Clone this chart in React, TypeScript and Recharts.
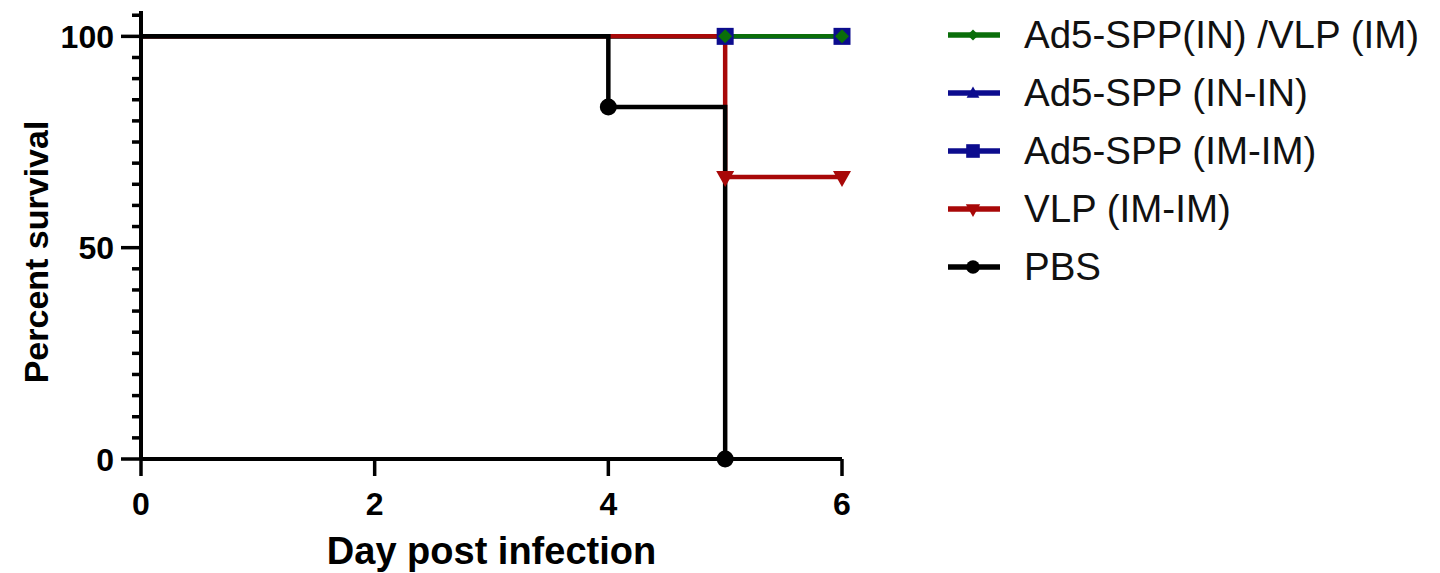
import React from "react";
import { LineChart, Line, XAxis, YAxis, Legend } from "recharts";

const FONT = '"Liberation Sans", Arial, Helvetica, sans-serif';

// Kaplan-Meier style survival, day vs percent
const dayTicks = [0, 2, 4, 6];
const percentTicks = [0, 5, 10, 15, 20, 25, 30, 35, 40, 45, 50, 55, 60, 65, 70, 75, 80, 85, 90, 95, 100, 105];
const majorPercent = [0, 50, 100];

const comboDays = [0, 5, 6];
const comboSurvival = [100, 100, 100];
const ininDays = [0, 5, 6];
const ininSurvival = [100, 100, 100];
const imimDays = [0, 5, 6];
const imimSurvival = [100, 100, 100];
const vlpDays = [0, 5, 6];
const vlpSurvival = [100, 66.7, 66.7];
const pbsDays = [0, 4, 5];
const pbsSurvival = [100, 83.3, 0];

type Shape = "diamond" | "triangle" | "square" | "triangleDown" | "circle";

interface Series {
    name: string;
    color: string;
    shape: Shape;
    days: number[];
    values: number[];
}

// legend order
const series: Series[] = [
    { name: "Ad5-SPP(IN) /VLP (IM)", color: "#0a6e0a", shape: "diamond", days: comboDays, values: comboSurvival },
    { name: "Ad5-SPP (IN-IN)", color: "#0c0c8e", shape: "triangle", days: ininDays, values: ininSurvival },
    { name: "Ad5-SPP (IM-IM)", color: "#0c0c8e", shape: "square", days: imimDays, values: imimSurvival },
    { name: "VLP (IM-IM)", color: "#a80808", shape: "triangleDown", days: vlpDays, values: vlpSurvival },
    { name: "PBS", color: "#000000", shape: "circle", days: pbsDays, values: pbsSurvival },
];

// paint order: blue ones under, black on top
const drawOrder = [1, 2, 0, 3, 4];

const marker = (shape: Shape, cx: number, cy: number, color: string, k = 1) => {
    switch (shape) {
        case "diamond":
            return <polygon points={`${cx},${cy - 7 * k} ${cx + 7 * k},${cy} ${cx},${cy + 7 * k} ${cx - 7 * k},${cy}`} fill={color} />;
        case "triangle":
            return <polygon points={`${cx},${cy - 8 * k} ${cx + 8 * k},${cy + 6 * k} ${cx - 8 * k},${cy + 6 * k}`} fill={color} />;
        case "square":
            return <rect x={cx - 8.5 * k} y={cy - 8.5 * k} width={17 * k} height={17 * k} fill={color} />;
        case "triangleDown":
            return <polygon points={`${cx - 9 * k},${cy - 6 * k} ${cx + 9 * k},${cy - 6 * k} ${cx},${cy + 10 * k}`} fill={color} />;
        default:
            return <circle cx={cx} cy={cy} r={8.5 * k} fill={color} />;
    }
};

const YTick = (props: any) => {
    const { x, y, payload } = props;
    const major = majorPercent.includes(payload.value);
    return (
        <g>
            <line x1={x} x2={x - (major ? 20 : 9)} y1={y} y2={y} stroke="#000" strokeWidth={3.5} />
            {major && (
                <text x={x - 27} y={y} dy="0.36em" textAnchor="end" fontFamily={FONT} fontWeight="bold" fontSize={32} fill="#000">
                    {payload.value}
                </text>
            )}
        </g>
    );
};

const YLabel = (props: any) => {
    const { viewBox } = props;
    const cx = viewBox.x + 48;
    const cy = viewBox.y + viewBox.height / 2 + 17;
    return (
        <text x={cx} y={cy} transform={`rotate(-90 ${cx} ${cy})`} textAnchor="middle" fontFamily={FONT} fontWeight="bold" fontSize={34} fill="#000">
            Percent survival
        </text>
    );
};

const LegendBox = () => (
    <div style={{ fontFamily: FONT, fontSize: 38.5, color: "#111" }}>
        {series.map((s) => (
            <div key={s.name} style={{ height: 58, display: "flex", alignItems: "center" }}>
                <svg width={80} height={30} style={{ flex: "none" }}>
                    <line x1={4} x2={56} y1={15} y2={15} stroke={s.color} strokeWidth={5.5} />
                    {marker(s.shape, 29, 15, s.color, 0.8)}
                </svg>
                <span style={{ whiteSpace: "nowrap" }}>{s.name}</span>
            </div>
        ))}
    </div>
);

export default function App() {
    return (
        <div style={{ position: "absolute", left: 0, top: 0 }}>
            <LineChart width={1440} height={573} margin={{ top: 11, right: 598, bottom: 0, left: 0 }}>
                <XAxis
                    type="number"
                    dataKey="x"
                    domain={[0, 6]}
                    ticks={dayTicks}
                    interval={0}
                    height={114}
                    axisLine={{ stroke: "#000", strokeWidth: 4 }}
                    tickLine={{ stroke: "#000", strokeWidth: 3.5 }}
                    tickSize={17}
                    tickMargin={16}
                    tick={{ fontFamily: FONT, fontWeight: "bold", fontSize: 32, fill: "#000" }}
                    label={{
                        value: "Day post infection",
                        position: "insideBottom",
                        offset: 9,
                        style: { fontFamily: FONT, fontWeight: "bold", fontSize: 38, fill: "#000" },
                    }}
                />
                <YAxis
                    type="number"
                    domain={[0, 106]}
                    ticks={percentTicks}
                    interval={0}
                    width={141}
                    axisLine={{ stroke: "#000", strokeWidth: 4 }}
                    tickLine={false}
                    tickSize={0}
                    tickMargin={0}
                    tick={<YTick />}
                    label={<YLabel />}
                />
                <Legend
                    layout="vertical"
                    align="center"
                    verticalAlign="middle"
                    wrapperStyle={{ left: 944, top: 6, width: 496 }}
                    content={() => <LegendBox />}
                />
                {drawOrder.map((i) => {
                    const s = series[i];
                    const pts = s.days.map((d, j) => ({ x: d, y: s.values[j] }));
                    return (
                        <Line
                            key={s.name}
                            data={pts}
                            dataKey="y"
                            name={s.name}
                            type="stepAfter"
                            stroke={s.color}
                            strokeWidth={4.5}
                            isAnimationActive={false}
                            dot={(p: any) => (
                                <g key={`${s.name}-${p.index}`}>{p.index === 0 ? null : marker(s.shape, p.cx, p.cy, s.color)}</g>
                            )}
                            activeDot={false}
                        />
                    );
                })}
            </LineChart>
        </div>
    );
}
